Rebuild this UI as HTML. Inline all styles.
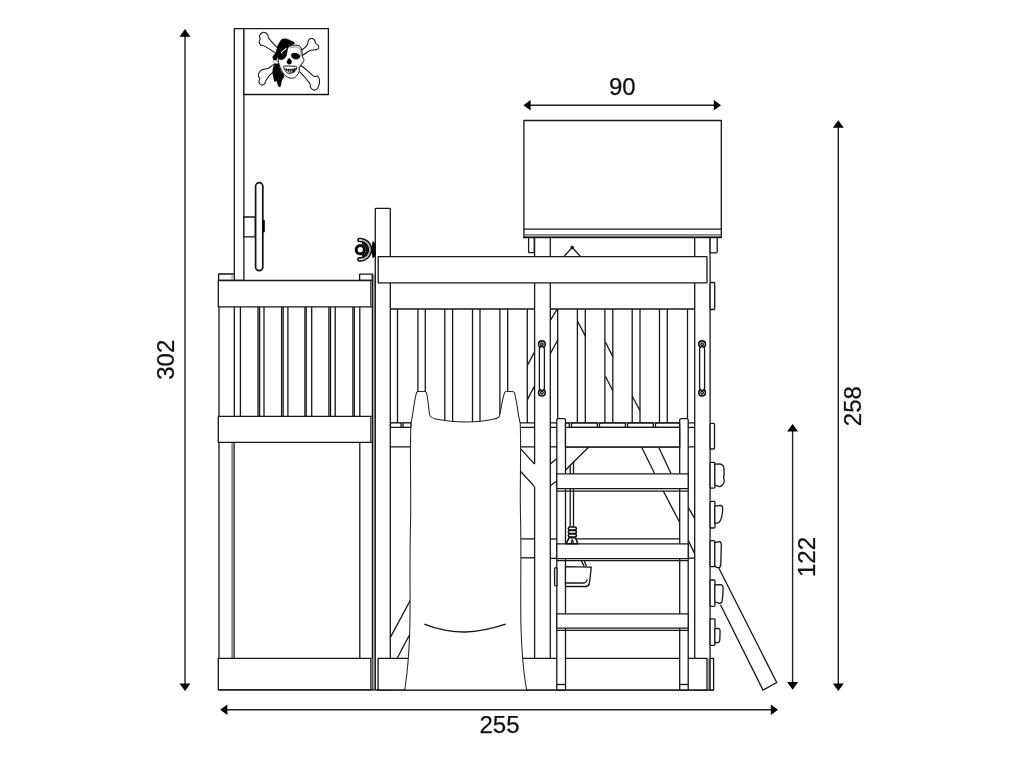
<!DOCTYPE html>
<html><head><meta charset="utf-8"><title>Play tower dimensions</title>
<style>
html,body{margin:0;padding:0;background:#fff;}
body{width:1024px;height:768px;overflow:hidden;font-family:"Liberation Sans",sans-serif;}
svg{display:block}
.o{fill:#fff;stroke:#161616;stroke-width:1.3;stroke-linejoin:round}
.o2{fill:#fff;stroke:#111;stroke-width:1.6;stroke-linejoin:round}
.l{fill:none;stroke:#161616;stroke-width:1.3;stroke-linecap:butt}
.l2{fill:none;stroke:#111;stroke-width:1.7}
.g3{fill:none;stroke:#555;stroke-width:1.3}
.s{fill:#fff;stroke:#222;stroke-width:1.05;stroke-linejoin:round}
.g{fill:none;stroke:#777;stroke-width:0.8}
.g2{fill:none;stroke:#444;stroke-width:1.1}
.d{fill:none;stroke:#222;stroke-width:1.4}
.a{fill:#000;stroke:none}
.k{fill:#000;stroke:#000;stroke-width:0.5}
.ring{fill:#fff;stroke:#000;stroke-width:3.0}
.band{fill:none;stroke:#111;stroke-width:2.7}
.o3{fill:#fff;stroke:#111;stroke-width:1.7}
.b{fill:#fff;stroke:#111;stroke-width:1.05;stroke-linejoin:round}
.sk{fill:#fff;stroke:#111;stroke-width:1.0;stroke-linejoin:round}
.sl{fill:none;stroke:#333;stroke-width:0.6}
.bk{fill:#000;stroke:#000;stroke-width:0.3;stroke-linejoin:round}
.kn{fill:#fff;stroke:#555;stroke-width:0.5}
.t{font-family:"Liberation Sans",sans-serif;font-size:24px;fill:#111;stroke:#111;stroke-width:0.25}
</style></head><body>
<svg width="1024" height="768" viewBox="0 0 1024 768" style="filter:grayscale(1)">
<rect x="0" y="0" width="1024" height="768" fill="#fff"/>
<line class="d" x1="185.00" y1="35.70" x2="185.00" y2="684.50" />
<path class="a" d="M185.0 29.1 L179.5 36.7 L190.5 36.7Z" />
<path class="a" d="M185.0 691.1 L179.5 683.5 L190.5 683.5Z" />
<line class="d" x1="838.30" y1="126.80" x2="838.30" y2="684.50" />
<path class="a" d="M838.3 120.2 L832.8 127.8 L843.8 127.8Z" />
<path class="a" d="M838.3 691.1 L832.8 683.5 L843.8 683.5Z" />
<line class="d" x1="792.60" y1="430.60" x2="792.60" y2="683.10" />
<path class="a" d="M792.6 424.0 L787.1 431.6 L798.1 431.6Z" />
<path class="a" d="M792.6 689.7 L787.1 682.1 L798.1 682.1Z" />
<line class="d" x1="529.60" y1="105.30" x2="714.80" y2="105.30" />
<path class="a" d="M523.4 105.3 L530.6 100.0 L530.6 110.6Z" />
<path class="a" d="M721.0 105.3 L713.8 100.0 L713.8 110.6Z" />
<line class="d" x1="226.40" y1="709.70" x2="771.90" y2="709.70" />
<path class="a" d="M220.2 709.7 L227.39999999999998 704.4000000000001 L227.39999999999998 715.0Z" />
<path class="a" d="M778.1 709.7 L770.9 704.4000000000001 L770.9 715.0Z" />
<text class="t" x="622.3" y="95.2" text-anchor="middle">90</text>
<text class="t" x="499.5" y="733.1" text-anchor="middle">255</text>
<text class="t" transform="translate(173.7,359.8) rotate(-90)" text-anchor="middle">302</text>
<text class="t" transform="translate(861.0,406.2) rotate(-90)" text-anchor="middle">258</text>
<text class="t" transform="translate(815.4,557.0) rotate(-90)" text-anchor="middle">122</text>
<rect class="o" x="234.30" y="28.70" width="9.60" height="251.80" />
<rect class="o" x="243.90" y="28.70" width="84.50" height="65.80" />
<rect class="o" x="243.90" y="217.00" width="11.40" height="19.90" />
<rect class="o3" x="255.60" y="182.70" width="7.20" height="88.00" rx="3.6"/>
<rect class="k" x="263.10" y="220.30" width="1.50" height="11.70" />
<rect class="o" x="218.60" y="274.00" width="15.70" height="6.50" />
<line class="g" x1="232.10" y1="274.00" x2="232.10" y2="280.50" />
<rect class="o" x="359.60" y="274.20" width="12.80" height="6.30" />
<line class="l" x1="234.30" y1="306.70" x2="234.30" y2="416.50" />
<line class="l" x1="240.40" y1="306.70" x2="240.40" y2="416.50" />
<line class="l" x1="258.00" y1="306.70" x2="258.00" y2="416.50" />
<line class="l" x1="259.60" y1="306.70" x2="259.60" y2="416.50" />
<line class="l" x1="264.00" y1="306.70" x2="264.00" y2="416.50" />
<line class="l" x1="281.60" y1="306.70" x2="281.60" y2="416.50" />
<line class="l" x1="283.20" y1="306.70" x2="283.20" y2="416.50" />
<line class="l" x1="287.90" y1="306.70" x2="287.90" y2="416.50" />
<line class="l" x1="304.90" y1="306.70" x2="304.90" y2="416.50" />
<line class="l" x1="306.20" y1="306.70" x2="306.20" y2="416.50" />
<line class="l" x1="311.70" y1="306.70" x2="311.70" y2="416.50" />
<line class="l" x1="328.90" y1="306.70" x2="328.90" y2="416.50" />
<line class="l" x1="330.50" y1="306.70" x2="330.50" y2="416.50" />
<line class="l" x1="335.20" y1="306.70" x2="335.20" y2="416.50" />
<line class="l" x1="352.90" y1="306.70" x2="352.90" y2="416.50" />
<line class="l" x1="354.30" y1="306.70" x2="354.30" y2="416.50" />
<line class="l" x1="359.80" y1="306.70" x2="359.80" y2="416.50" />
<line class="g2" x1="232.10" y1="442.50" x2="232.10" y2="658.30" />
<line class="l" x1="234.10" y1="442.50" x2="234.10" y2="658.30" />
<line class="l" x1="359.80" y1="442.50" x2="359.80" y2="658.30" />
<line class="l" x1="219.00" y1="280.50" x2="219.00" y2="690.00" />
<rect class="o" x="218.30" y="280.50" width="154.10" height="26.30" />
<rect class="o" x="218.30" y="416.40" width="154.10" height="26.00" />
<rect class="o" x="218.30" y="658.30" width="154.10" height="31.60" />
<rect x="372.4" y="274.2" width="2.9" height="415.8" fill="#a8a8a8" stroke="none"/>
<line class="l" x1="372.40" y1="274.20" x2="372.40" y2="690.00" />
<rect x="370.4" y="658.3" width="2.2" height="31.6" fill="#808080" stroke="none"/>
<line class="g2" x1="370.60" y1="280.50" x2="370.60" y2="306.70" />
<line class="g2" x1="370.60" y1="416.50" x2="370.60" y2="442.50" />
<line class="g2" x1="370.60" y1="658.30" x2="370.60" y2="690.00" />
<line class="l" x1="218.30" y1="689.90" x2="713.60" y2="689.90" />
<rect class="o" x="375.30" y="208.30" width="15.00" height="481.60" rx="0.8"/>
<line class="l" x1="397.50" y1="309.00" x2="397.50" y2="423.00" />
<line class="l" x1="417.90" y1="309.00" x2="417.90" y2="423.00" />
<line class="l" x1="425.30" y1="309.00" x2="425.30" y2="423.00" />
<line class="l" x1="444.80" y1="309.00" x2="444.80" y2="423.00" />
<line class="l" x1="452.60" y1="309.00" x2="452.60" y2="423.00" />
<line class="l" x1="472.50" y1="309.00" x2="472.50" y2="423.00" />
<line class="l" x1="480.00" y1="309.00" x2="480.00" y2="423.00" />
<line class="l" x1="499.90" y1="309.00" x2="499.90" y2="423.00" />
<line class="l" x1="507.70" y1="309.00" x2="507.70" y2="423.00" />
<line class="l" x1="527.30" y1="309.00" x2="527.30" y2="423.00" />
<line class="l" x1="557.70" y1="309.00" x2="557.70" y2="423.00" />
<line class="l" x1="577.40" y1="309.00" x2="577.40" y2="423.00" />
<line class="l" x1="585.30" y1="309.00" x2="585.30" y2="423.00" />
<line class="l" x1="604.90" y1="309.00" x2="604.90" y2="423.00" />
<line class="l" x1="612.80" y1="309.00" x2="612.80" y2="423.00" />
<line class="l" x1="632.20" y1="309.00" x2="632.20" y2="423.00" />
<line class="l" x1="640.00" y1="309.00" x2="640.00" y2="423.00" />
<line class="l" x1="659.50" y1="309.00" x2="659.50" y2="423.00" />
<line class="l" x1="667.30" y1="309.00" x2="667.30" y2="423.00" />
<line class="l" x1="687.50" y1="309.00" x2="687.50" y2="423.00" />
<line class="l" x1="527.40" y1="365.40" x2="534.60" y2="351.80" />
<line class="l" x1="527.40" y1="399.60" x2="534.60" y2="385.90" />
<line class="l" x1="550.30" y1="320.50" x2="557.10" y2="309.40" />
<line class="l" x1="550.30" y1="353.70" x2="557.70" y2="340.00" />
<line class="l" x1="577.60" y1="321.50" x2="585.40" y2="336.10" />
<line class="l" x1="605.40" y1="342.00" x2="612.80" y2="356.60" />
<line class="l" x1="605.40" y1="376.20" x2="612.80" y2="390.80" />
<line class="l" x1="632.20" y1="396.00" x2="640.00" y2="410.80" />
<line class="l" x1="390.40" y1="422.90" x2="695.30" y2="422.90" />
<line class="l" x1="390.40" y1="427.30" x2="695.30" y2="427.30" />
<line class="l" x1="390.40" y1="446.80" x2="695.30" y2="446.80" />
<line class="l" x1="390.40" y1="309.00" x2="695.30" y2="309.00" />
<line class="l" x1="520.20" y1="448.40" x2="534.60" y2="464.10" />
<line class="l" x1="520.20" y1="471.00" x2="534.60" y2="486.60" />
<line class="l" x1="550.30" y1="463.90" x2="556.70" y2="458.40" />
<line class="l" x1="550.30" y1="485.80" x2="556.70" y2="481.10" />
<line class="l" x1="641.50" y1="447.00" x2="654.70" y2="473.80" />
<line class="l" x1="658.60" y1="447.00" x2="671.10" y2="473.80" />
<line class="l" x1="663.30" y1="491.00" x2="679.70" y2="522.50" />
<line class="l" x1="688.20" y1="507.30" x2="694.80" y2="518.70" />
<line class="l" x1="688.20" y1="540.40" x2="694.80" y2="553.90" />
<line class="l" x1="688.20" y1="558.20" x2="694.80" y2="558.20" />
<line class="l" x1="588.80" y1="447.00" x2="565.30" y2="470.20" />
<line class="l" x1="570.20" y1="464.90" x2="570.20" y2="527.00" />
<line class="l" x1="573.50" y1="462.00" x2="573.50" y2="527.00" />
<rect x="534.6" y="237.7" width="15.7" height="420.6" fill="#fff" stroke="none"/>
<line class="l" x1="534.60" y1="237.70" x2="534.60" y2="464.10" />
<line class="l" x1="534.60" y1="486.60" x2="534.60" y2="658.30" />
<line class="l" x1="550.30" y1="237.70" x2="550.30" y2="658.30" />
<line class="l" x1="520.60" y1="538.90" x2="534.60" y2="538.90" />
<line class="l" x1="520.60" y1="557.80" x2="534.60" y2="557.80" />
<line class="l" x1="550.30" y1="539.00" x2="556.80" y2="539.00" />
<line class="l" x1="550.30" y1="558.40" x2="556.80" y2="558.40" />
<rect class="o" x="694.70" y="237.40" width="15.40" height="452.60" />
<rect class="o" x="523.90" y="120.50" width="197.40" height="116.90" />
<line class="l" x1="523.90" y1="229.10" x2="721.30" y2="229.10" />
<line class="g3" x1="523.90" y1="234.90" x2="721.30" y2="234.90" />
<line class="l2" x1="523.30" y1="237.30" x2="721.90" y2="237.30" />
<rect class="o" x="528.60" y="237.70" width="5.60" height="15.00" rx="1"/>
<rect class="o" x="710.10" y="237.70" width="7.10" height="15.10" rx="1"/>
<rect class="o" x="710.10" y="282.50" width="4.60" height="27.00" rx="1"/>
<line class="l" x1="563.80" y1="256.60" x2="572.20" y2="247.50" />
<line class="l" x1="580.60" y1="256.60" x2="572.20" y2="247.50" />
<circle cx="572.2" cy="247.3" r="1.4" class="k"/>
<rect class="o" x="378.20" y="256.70" width="328.80" height="26.10" />
<circle cx="541.9" cy="344.2" r="3.3" class="o2"/>
<circle cx="541.9" cy="344.2" r="1.3" class="l"/>
<circle cx="541.9" cy="392.70000000000005" r="3.3" class="o2"/>
<circle cx="541.9" cy="392.70000000000005" r="1.3" class="l"/>
<rect class="o" x="539.40" y="346.60" width="5.00" height="43.70" rx="2.5"/>
<circle cx="702.1" cy="344.2" r="3.3" class="o2"/>
<circle cx="702.1" cy="344.2" r="1.3" class="l"/>
<circle cx="702.1" cy="392.70000000000005" r="3.3" class="o2"/>
<circle cx="702.1" cy="392.70000000000005" r="1.3" class="l"/>
<rect class="o" x="699.60" y="346.60" width="5.00" height="43.70" rx="2.5"/>
<rect class="o" x="378.10" y="658.30" width="328.90" height="31.70" />
<rect class="o" x="710.10" y="658.30" width="3.50" height="31.70" />
<line class="g" x1="708.40" y1="658.30" x2="708.40" y2="690.00" />
<line class="l" x1="390.50" y1="637.10" x2="410.50" y2="600.00" />
<line class="l" x1="397.30" y1="658.00" x2="410.50" y2="633.00" />
<path class="s" d="M404.8 690 C407.5 672 409.3 650 409.8 628 C410.6 600 409.4 560 410.6 520 C411.2 490 409.6 450 411 423 C412.5 419 414 400 416.6 392.6 Q417.2 391.4 418.6 391.4 L424.6 391.4 Q426 391.4 426.4 392.6 C428 398 428.6 409 429.6 414.5 C430.4 418.0 433 418.4 436 419 C455 423.0 478 423.0 494 419 C497 418.4 499.2 418.0 499.9 414.5 C501 409 502.5 398 504.6 392.6 Q505 391.4 506.5 391.4 L512.2 391.4 Q513.8 391.4 514.3 392.6 C517 400 518.3 418 520.2 423 C521.4 450 519.6 490 520.6 520 C521.4 560 520.2 600 521 628 C521.8 652 523.6 674 526.7 690 Z" />
<path class="l" d="M424.3 624.1 C438 630 455 632.2 465.1 632.0 C478 631.6 492 628.6 505.7 624.1" />
<path class="o" d="M556.8 690 L556.8 420.1 Q556.8 418.6 558.3 418.6 L564.0 418.6 Q565.5 418.6 565.5 420.1 L565.5 690 Z" />
<path class="o" d="M679.7 690 L679.7 420.1 Q679.7 418.6 681.2 418.6 L686.7 418.6 Q688.2 418.6 688.2 420.1 L688.2 690 Z" />
<line class="l" x1="556.80" y1="684.50" x2="565.50" y2="684.50" />
<line class="l" x1="679.70" y1="684.50" x2="688.20" y2="684.50" />
<rect class="o" x="390.40" y="422.80" width="10.70" height="4.50" rx="1.2"/>
<rect class="o" x="403.00" y="422.80" width="8.00" height="4.50" rx="1.2"/>
<rect class="o" x="571.40" y="423.00" width="26.00" height="4.30" rx="1.5"/>
<rect class="o" x="599.40" y="423.00" width="26.10" height="4.30" rx="1.5"/>
<rect class="o" x="627.50" y="423.00" width="25.80" height="4.30" rx="1.5"/>
<rect class="o" x="655.40" y="423.00" width="24.30" height="4.30" rx="1.5"/>
<line class="l" x1="576.80" y1="538.90" x2="679.70" y2="538.90" />
<rect class="o" x="556.80" y="473.80" width="131.40" height="14.80" />
<line class="l" x1="556.80" y1="491.10" x2="688.20" y2="491.10" />
<rect class="o" x="556.80" y="543.90" width="131.40" height="14.70" />
<line class="l" x1="556.80" y1="560.70" x2="688.20" y2="560.70" />
<rect class="o" x="556.80" y="613.80" width="131.40" height="14.40" />
<line class="l" x1="556.80" y1="630.30" x2="688.20" y2="630.30" />
<rect class="o" x="565.50" y="427.30" width="114.20" height="19.70" />
<rect class="o" x="565.50" y="423.20" width="3.70" height="4.10" />
<rect class="o2" x="568.30" y="527.00" width="8.10" height="3.10" rx="1.55"/>
<rect class="o2" x="568.30" y="530.50" width="8.10" height="3.10" rx="1.55"/>
<rect class="o2" x="568.30" y="534.00" width="8.10" height="3.10" rx="1.55"/>
<path class="o2" d="M569.2 537.6 L575.5 537.6 L577.8 543.7 L566.1 543.7 Z" />
<line class="l" x1="571.00" y1="543.70" x2="572.30" y2="539.50" />
<line class="l" x1="573.60" y1="543.70" x2="572.30" y2="539.50" />
<path class="o" d="M565.5 566.6 L591.3 567.2 L589.4 583.5 Q588.8 586.4 585.5 586.5 L565.5 586.5 Z" />
<path class="l" d="M565.5 583.0 L583.5 583.0 Q586.8 582.6 587.2 579.5" />
<rect class="o" x="554.60" y="567.70" width="2.40" height="18.20" rx="1.2"/>
<line class="l" x1="581.30" y1="560.70" x2="584.30" y2="566.60" />
<line class="l" x1="584.30" y1="560.70" x2="586.60" y2="566.60" />
<rect class="o" x="710.10" y="423.30" width="4.40" height="25.70" rx="1"/>
<rect class="o" x="710.10" y="462.30" width="4.90" height="25.80" rx="1"/>
<rect class="o" x="710.10" y="501.40" width="4.90" height="26.60" rx="1"/>
<rect class="o" x="710.10" y="540.60" width="4.90" height="26.10" rx="1"/>
<rect class="o" x="710.10" y="580.00" width="4.90" height="26.30" rx="1"/>
<rect class="o" x="710.10" y="618.80" width="4.90" height="26.50" rx="1"/>
<path class="o" d="M714.8 464.2 L719.5 463.9 Q723.6 464.6 723.9 468 L724.2 474 L723.6 477 L724.2 481 Q723.8 485.6 719.5 486.6 L714.8 485.2 Z" />
<path class="o" d="M714.8 506.2 L720.5 505.3 Q722.9 505.6 722.7 509 Q722.3 518 719.5 522.0 Q718 523.4 714.8 523.0 Z" />
<path class="o" d="M714.8 542.6 L719.5 541.7 Q721.4 541.9 721.3 545 L720.8 564 Q720.6 567.6 718.5 567.8 L716.0 567.2 L714.8 565.5 Z" />
<path class="o" d="M714.8 585.0 L721.0 584.7 Q723.0 585.0 723.1 588 Q723.2 596 722.0 601.5 Q721.4 603.5 719.5 603.3 L714.8 601.8 Z" />
<path class="o" d="M714.8 628.6 L718.5 628.4 Q720.2 628.8 720.1 631 L719.8 640 Q719.4 642.6 717.5 642.8 L714.8 642.2 Z" />
<path class="l" d="M718.9 568.3 L776.7 682.5 L763.0 690.0 L720.5 604.7" />
<path class="k" d="M372.7 241.7 Q375.7 241.7 375.5 249.7 Q375.7 257.7 372.7 257.7 Q371.3 249.7 372.7 241.7Z" />
<path class="k" d="M371.2 247.6 L373.0 249.7 L371.2 251.8Z" />
<path class="o2" d="M359.13 238.56 A11.2 11.2 0 1 1 359.13 260.84 A1.50 1.50 0 0 1 359.44 257.86 A8.2 8.2 0 1 0 359.44 241.54 A1.50 1.50 0 0 1 359.13 238.56Z" />
<path class="g" d="M361.98 240.15 A9.7 9.7 0 0 1 361.98 259.25" />
<path class="band" d="M362.09 243.04 A6.9 6.9 0 0 1 362.09 256.36" />
<circle cx="360.3" cy="249.7" r="4.1" class="ring"/>
<g class="skull"><path class="b" d="M263.59 32.34 C264.92 32.16 266.59 33.49 267.50 34.53 C268.41 35.57 267.57 36.55 269.06 38.59 C270.56 40.64 273.10 43.41 276.48 46.80 C279.87 50.18 285.01 55.59 289.38 58.91 C293.74 62.23 298.62 63.85 302.66 66.72 C306.69 69.58 311.12 74.56 313.59 76.09 C316.07 77.63 316.51 75.29 317.50 75.94 C318.49 76.59 319.27 78.54 319.53 80.00 C319.79 81.46 319.51 83.15 319.06 84.69 C318.62 86.22 317.89 88.36 316.88 89.22 C315.86 90.08 314.04 90.21 312.97 89.84 C311.90 89.48 311.04 88.15 310.47 87.03 C309.90 85.91 311.29 85.60 309.53 83.12 C307.77 80.65 303.54 75.57 299.92 72.19 C296.30 68.80 291.98 66.07 287.81 62.81 C283.65 59.56 278.96 55.52 274.92 52.66 C270.89 49.79 265.92 46.85 263.59 45.62 C261.26 44.40 261.67 45.94 260.94 45.31 C260.21 44.69 259.35 42.97 259.22 41.88 C259.09 40.78 260.10 39.79 260.16 38.75 C260.21 37.71 258.96 36.69 259.53 35.62 C260.10 34.56 262.27 32.53 263.59 32.34Z"/>
<path class="b" d="M310.86 38.59 C311.90 38.40 313.58 38.98 314.38 39.77 C315.17 40.55 314.97 42.33 315.62 43.28 C316.28 44.23 317.81 44.56 318.28 45.47 C318.75 46.38 319.02 48.02 318.44 48.75 C317.85 49.48 316.22 49.51 314.77 49.84 C313.31 50.18 311.71 49.86 309.69 50.78 C307.67 51.71 306.17 53.12 302.66 55.39 C299.14 57.66 293.61 61.51 288.59 64.38 C283.58 67.24 276.22 70.10 272.58 72.58 C268.93 75.05 268.06 77.33 266.72 79.22 C265.38 81.11 265.49 82.97 264.53 83.91 C263.57 84.84 261.88 85.23 260.94 84.84 C260.00 84.45 259.09 82.60 258.91 81.56 C258.72 80.52 259.92 79.51 259.84 78.59 C259.77 77.68 258.53 77.16 258.44 76.09 C258.35 75.03 258.57 73.28 259.30 72.19 C260.03 71.09 261.32 70.18 262.81 69.53 C264.31 68.88 266.46 69.14 268.28 68.28 C270.10 67.42 270.49 66.46 273.75 64.38 C277.01 62.29 283.12 58.19 287.81 55.78 C292.50 53.37 298.65 51.72 301.88 49.92 C305.10 48.12 306.15 46.50 307.19 45.00 C308.23 43.50 307.51 42.01 308.12 40.94 C308.74 39.87 309.82 38.79 310.86 38.59Z"/>
<path class="bk" d="M274.14 64.38 C274.73 63.52 277.77 62.97 278.44 63.59 C279.10 64.22 280.20 69.38 280.78 70.62 C281.37 71.88 284.18 75.16 284.30 76.09 C284.41 77.03 282.34 78.95 281.95 80.00 C281.56 81.05 280.74 86.02 280.39 86.64 C280.04 87.27 278.83 86.84 278.44 86.25 C278.05 85.66 276.88 81.25 276.48 80.78 C276.09 80.31 274.92 82.42 274.53 81.56 C274.14 80.70 272.62 73.91 272.58 72.19 C272.54 70.47 273.55 65.23 274.14 64.38Z"/>
<path class="sk" d="M289.38 46.25 C291.20 45.64 293.87 45.08 295.62 45.08 C297.38 45.08 298.88 45.38 299.92 46.25 C300.96 47.12 301.48 48.72 301.88 50.31 C302.27 51.90 301.93 54.09 302.27 55.78 C302.60 57.47 303.97 59.04 303.91 60.47 C303.84 61.90 302.60 63.20 301.88 64.38 C301.15 65.55 299.92 66.46 299.53 67.50 C299.14 68.54 300.05 69.19 299.53 70.62 C299.01 72.06 297.58 74.83 296.41 76.09 C295.23 77.36 293.93 77.99 292.50 78.20 C291.07 78.41 289.11 77.88 287.81 77.34 C286.51 76.81 285.73 76.12 284.69 75.00 C283.65 73.88 282.47 72.40 281.56 70.62 C280.65 68.85 279.77 66.20 279.22 64.38 C278.67 62.55 278.02 61.51 278.28 59.69 C278.54 57.86 279.71 55.26 280.78 53.44 C281.85 51.61 283.26 49.95 284.69 48.75 C286.12 47.55 287.55 46.86 289.38 46.25Z"/>
<path class="sl" d="M290.16 47.81 C291.07 47.64 294.13 46.74 295.62 46.80 C297.12 46.85 298.28 47.41 299.14 48.12 C300.00 48.84 300.46 49.82 300.78 51.09 C301.11 52.37 301.04 55.00 301.09 55.78"/>
<path class="sl" d="M302.34 61.25 C302.07 61.84 301.30 63.72 300.70 64.77 C300.10 65.81 299.08 66.59 298.75 67.50 C298.42 68.41 298.75 69.78 298.75 70.23"/>
<path class="bk" d="M281.56 39.38 C282.42 38.70 284.92 38.48 286.25 38.83 C287.58 39.18 294.53 42.13 294.84 42.89 C295.16 43.65 290.08 45.82 289.38 46.41 C288.67 46.99 288.11 47.81 287.81 48.75 C287.52 49.69 286.80 54.77 286.41 55.78 C286.02 56.80 284.55 58.50 283.91 58.91 C283.27 59.31 280.61 59.98 280.00 59.84 C279.39 59.70 278.20 57.44 277.81 57.50 C277.42 57.56 276.53 60.23 276.09 60.47 C275.66 60.70 273.77 60.23 273.44 59.84 C273.11 59.45 272.55 57.36 272.81 56.56 C273.08 55.77 275.61 52.97 276.09 51.88 C276.58 50.78 277.11 46.88 277.66 45.62 C278.20 44.38 280.70 40.05 281.56 39.38Z"/>
<line x1="281.17" y1="52.66" x2="286.09" y2="48.44" stroke="#fff" stroke-width="1.1" stroke-linecap="round"/>
<path class="kn" d="M273.59 61.25 C273.83 60.83 274.79 60.57 275.47 60.62 C276.15 60.68 277.21 61.15 277.66 61.56 C278.10 61.98 278.39 62.76 278.12 63.12 C277.86 63.49 276.77 63.75 276.09 63.75 C275.42 63.75 274.48 63.54 274.06 63.12 C273.65 62.71 273.36 61.67 273.59 61.25Z"/>
<path class="bk" d="M291.33 54.38 C291.72 53.70 292.83 53.07 294.06 53.05 C295.30 53.02 297.75 53.57 298.75 54.22 C299.75 54.87 300.27 56.16 300.08 56.95 C299.88 57.75 298.58 58.65 297.58 58.98 C296.58 59.32 295.04 59.30 294.06 58.98 C293.09 58.67 292.17 57.88 291.72 57.11 C291.26 56.34 290.94 55.05 291.33 54.38Z"/>
<path class="bk" d="M289.38 58.28 C289.95 58.29 290.70 59.39 291.09 60.08 C291.48 60.77 291.85 61.76 291.72 62.42 C291.59 63.09 290.90 63.79 290.31 64.06 C289.73 64.34 288.78 64.35 288.20 64.06 C287.63 63.78 286.97 63.02 286.88 62.34 C286.78 61.67 287.24 60.68 287.66 60.00 C288.07 59.32 288.80 58.27 289.38 58.28Z"/>
<path class="sk" d="M283.75 66.33 C284.27 65.71 288.66 66.05 290.16 66.09 C291.65 66.14 296.00 66.10 296.56 66.72 C297.13 67.34 295.84 70.62 295.00 71.41 C294.16 72.19 290.46 73.44 289.38 73.44 C288.29 73.44 286.36 72.24 285.70 71.41 C285.05 70.58 283.23 66.95 283.75 66.33Z"/>
<path class="bk" d="M285.62 68.44 C286.08 68.20 289.36 69.10 290.55 69.06 C291.73 69.03 295.37 67.85 295.78 68.12 C296.19 68.40 294.81 70.92 294.06 71.41 C293.32 71.89 290.24 72.30 289.38 72.27 C288.51 72.23 287.08 71.54 286.64 71.09 C286.20 70.65 285.17 68.67 285.62 68.44Z"/>
<rect x="287.31" y="70.33" width="1.0" height="1.6" fill="#fff"/>
<rect x="289.27" y="70.33" width="1.0" height="1.6" fill="#fff"/>
<rect x="291.22" y="70.33" width="1.0" height="1.6" fill="#fff"/>
<rect x="286.72" y="67.34" width="1.3" height="1.9" fill="#fff"/>
<rect x="288.68" y="67.34" width="1.3" height="1.9" fill="#fff"/>
<rect x="290.63" y="67.34" width="1.3" height="1.9" fill="#fff"/>
<rect x="292.58" y="67.34" width="1.3" height="1.9" fill="#fff"/>
<circle cx="286.25" cy="72.58" r="0.35" fill="#333"/>
<circle cx="287.81" cy="73.75" r="0.35" fill="#333"/>
<circle cx="289.77" cy="74.22" r="0.35" fill="#333"/>
<circle cx="291.72" cy="73.75" r="0.35" fill="#333"/>
<circle cx="293.28" cy="72.81" r="0.35" fill="#333"/>
<circle cx="285.08" cy="70.62" r="0.35" fill="#333"/>
<circle cx="295.62" cy="70.62" r="0.35" fill="#333"/></g>
</svg>
</body></html>
